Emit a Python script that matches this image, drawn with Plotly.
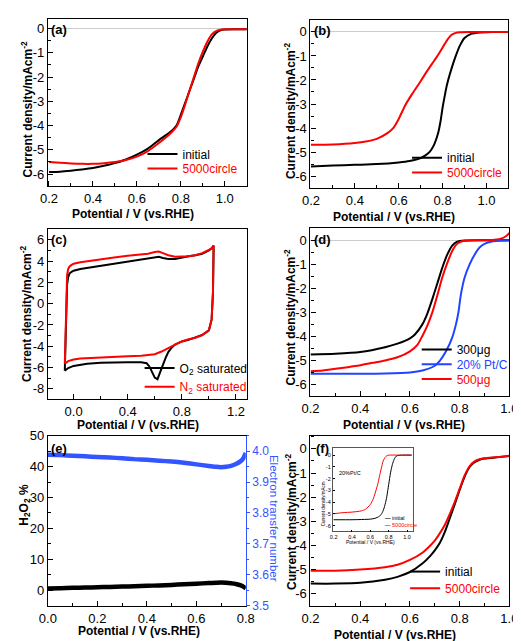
import plotly.graph_objects as go

W, H = 521, 641
FONT = "Liberation Sans Narrow, Liberation Sans, Arial, sans-serif"
FONT_W = "Liberation Sans, Arial, sans-serif"
BLACK, RED, BLUE = "#000000", "#ff0000", "#2244ff"
EBLUE = "#3355ff"

# ---------------- data ----------------
# (a)
a_x = [0.20, 0.25, 0.30, 0.35, 0.40, 0.45, 0.50, 0.55, 0.60, 0.65, 0.70, 0.75, 0.78, 0.80, 0.82,
       0.84, 0.86, 0.88, 0.90, 0.92, 0.94, 0.96, 0.98, 1.00, 1.05, 1.10]
a_initial = [-5.92, -5.90, -5.86, -5.81, -5.75, -5.66, -5.55, -5.40, -5.20, -4.95, -4.60, -4.28, -4.00,
             -3.55, -3.05, -2.55, -2.05, -1.55, -1.15, -0.75, -0.42, -0.18, -0.07, -0.04, -0.03, -0.03]
a_5000 = [-5.50, -5.53, -5.56, -5.58, -5.58, -5.55, -5.50, -5.42, -5.28, -5.05, -4.72, -4.35, -4.05,
          -3.65, -3.12, -2.55, -1.98, -1.42, -0.95, -0.55, -0.25, -0.10, -0.05, -0.03, -0.03, -0.03]

# (b)
b_x_initial = [0.20, 0.30, 0.40, 0.50, 0.60, 0.65, 0.70, 0.72, 0.74, 0.76, 0.78, 0.79, 0.80, 0.81, 0.82,
               0.84, 0.86, 0.88, 0.90, 0.93, 0.97, 1.00, 1.05, 1.10]
b_initial = [-5.60, -5.56, -5.53, -5.50, -5.43, -5.37, -5.25, -5.15, -5.00, -4.72, -4.20, -3.75, -3.15,
             -2.65, -2.20, -1.55, -1.00, -0.55, -0.25, -0.08, -0.02, -0.01, 0.0, 0.0]
b_x_5000 = [0.20, 0.30, 0.40, 0.45, 0.50, 0.55, 0.575, 0.60, 0.63, 0.66, 0.70, 0.73, 0.76, 0.78, 0.80,
            0.82, 0.84, 0.86, 0.88, 0.92, 1.00, 1.10]
b_5000 = [-4.70, -4.68, -4.62, -4.56, -4.45, -4.20, -4.00, -3.62, -3.05, -2.60, -2.05, -1.62, -1.22,
          -0.95, -0.65, -0.35, -0.13, -0.04, -0.01, 0.0, 0.0, 0.0]

# (c) cyclic voltammograms (closed loops)
c_x_o2 = [-0.065, -0.062, -0.058, -0.054, -0.048, -0.04, -0.03, -0.015, 0.0, 0.05, 0.1, 0.2, 0.3, 0.4,
          0.5, 0.55, 0.6, 0.63, 0.66, 0.7, 0.75, 0.8, 0.85, 0.9, 0.95, 1.0, 1.02, 1.035, 1.035, 1.03,
          1.02, 1.0, 0.95, 0.9, 0.85, 0.8, 0.75, 0.72, 0.7, 0.68, 0.66, 0.64, 0.62, 0.6, 0.58, 0.56,
          0.54, 0.5, 0.4, 0.3, 0.2, 0.1, 0.05, 0.0, -0.04, -0.065]
c_o2 = [-6.3, -4.5, -1.5, 0.5, 1.8, 2.5, 2.85, 3.0, 3.1, 3.25, 3.35, 3.5, 3.7, 3.95, 4.1, 4.2, 4.35,
        4.4, 4.3, 4.2, 4.2, 4.35, 4.45, 4.55, 4.7, 5.0, 5.2, 5.45, 4.0, 1.0, -1.5, -2.5, -2.95, -3.2,
        -3.4, -3.55, -3.85, -4.2, -4.55, -5.1, -5.8, -6.6, -7.1, -6.95, -6.4, -5.9, -5.6, -5.5, -5.5,
        -5.5, -5.55, -5.65, -5.75, -5.85, -6.05, -6.3]
c_x_n2 = [-0.065, -0.062, -0.058, -0.054, -0.048, -0.04, -0.03, -0.015, 0.0, 0.05, 0.1, 0.2, 0.3, 0.4,
          0.5, 0.55, 0.6, 0.63, 0.66, 0.7, 0.75, 0.8, 0.85, 0.9, 0.95, 1.0, 1.02, 1.035, 1.035, 1.03,
          1.02, 1.0, 0.95, 0.9, 0.85, 0.8, 0.75, 0.7, 0.65, 0.6, 0.55, 0.5, 0.4, 0.3, 0.2, 0.1, 0.05,
          0.0, -0.04, -0.065]
c_n2 = [-5.65, -3.5, -0.5, 1.5, 2.7, 3.25, 3.5, 3.65, 3.75, 3.9, 4.0, 4.2, 4.35, 4.5, 4.6, 4.7, 4.85,
        4.9, 4.75, 4.55, 4.42, 4.4, 4.45, 4.55, 4.75, 5.05, 5.2, 5.45, 4.0, 1.0, -1.5, -2.5, -2.95,
        -3.2, -3.35, -3.55, -3.85, -4.2, -4.5, -4.75, -4.85, -4.9, -4.95, -5.0, -5.05, -5.1, -5.15,
        -5.25, -5.4, -5.65]

# (d)
d_x_300 = [0.20, 0.30, 0.40, 0.50, 0.55, 0.60, 0.62, 0.65, 0.67, 0.69, 0.71, 0.73, 0.75, 0.77, 0.79,
           0.82, 0.90, 1.00]
d_300 = [-4.75, -4.72, -4.65, -4.45, -4.30, -4.08, -3.92, -3.50, -3.05, -2.45, -1.80, -1.15, -0.60,
         -0.22, -0.06, -0.01, 0.0, 0.0]
d_x_ptc = [0.20, 0.30, 0.40, 0.50, 0.60, 0.65, 0.70, 0.72, 0.745, 0.77, 0.785, 0.795, 0.805, 0.82,
           0.84, 0.86, 0.88, 0.90, 0.93, 0.96, 1.00]
d_ptc = [-5.55, -5.55, -5.55, -5.54, -5.50, -5.42, -5.22, -5.02, -4.62, -4.05, -3.50, -3.00, -2.25,
         -1.55, -1.00, -0.60, -0.30, -0.15, -0.05, -0.02, -0.01]
d_x_500 = [0.20, 0.25, 0.30, 0.35, 0.40, 0.45, 0.50, 0.55, 0.60, 0.63, 0.65, 0.67, 0.69, 0.71, 0.73,
           0.75, 0.77, 0.79, 0.81, 0.85, 0.90, 0.94, 0.97, 0.99, 1.00]
d_500 = [-5.45, -5.42, -5.35, -5.28, -5.20, -5.10, -5.00, -4.87, -4.62, -4.35, -3.98, -3.55, -3.00,
         -2.30, -1.55, -0.95, -0.45, -0.15, -0.04, 0.0, 0.0, 0.02, 0.08, 0.20, 0.30]

# (e)
e_x = [0.0, 0.05, 0.1, 0.15, 0.2, 0.25, 0.3, 0.35, 0.4, 0.45, 0.5, 0.55, 0.6, 0.65, 0.68, 0.7, 0.72,
       0.74, 0.76, 0.78, 0.79, 0.8]
e_h2o2 = [0.6, 0.7, 0.8, 0.9, 1.0, 1.1, 1.2, 1.35, 1.45, 1.6, 1.75, 1.95, 2.15, 2.35, 2.45, 2.5, 2.45,
          2.3, 2.05, 1.6, 1.2, 0.6]
e_n = [3.988, 3.987, 3.985, 3.983, 3.981, 3.979, 3.977, 3.974, 3.972, 3.969, 3.966, 3.962, 3.957,
       3.952, 3.949, 3.948, 3.949, 3.952, 3.958, 3.968, 3.977, 3.994]

# (f)
f_x = [0.20, 0.30, 0.40, 0.50, 0.55, 0.60, 0.65, 0.68, 0.70, 0.72, 0.74, 0.76, 0.78, 0.80, 0.82, 0.84,
       0.86, 0.88, 0.90, 0.95, 1.00]
f_initial = [-5.58, -5.58, -5.55, -5.42, -5.30, -5.10, -4.75, -4.45, -4.20, -3.90, -3.45, -2.88, -2.30,
             -1.70, -1.15, -0.75, -0.55, -0.45, -0.40, -0.35, -0.30]
f_5000 = [-5.05, -5.05, -5.00, -4.90, -4.80, -4.60, -4.30, -4.02, -3.80, -3.50, -3.15, -2.70, -2.20,
          -1.65, -1.10, -0.72, -0.52, -0.43, -0.39, -0.34, -0.28]

# (f) inset: 20% Pt/C
in_x_initial = [0.20, 0.40, 0.60, 0.65, 0.70, 0.73, 0.75, 0.77, 0.78, 0.80, 0.82, 0.84, 0.86, 0.88,
                0.90, 0.95, 1.05]
in_initial = [-5.5, -5.5, -5.45, -5.38, -5.2, -4.9, -4.5, -3.9, -3.5, -2.5, -1.5, -0.8, -0.35, -0.1,
              -0.03, 0.0, 0.0]
in_x_5000 = [0.19, 0.30, 0.40, 0.50, 0.55, 0.60, 0.63, 0.65, 0.68, 0.70, 0.72, 0.74, 0.76, 0.78, 0.80,
             0.90, 1.05]
in_5000 = [-5.0, -4.9, -4.85, -4.75, -4.6, -4.2, -3.75, -3.3, -2.5, -1.8, -1.1, -0.5, -0.2, -0.05, 0.0,
           0.0, 0.0]

# tick labels
t_lsv_y = [0, -1, -2, -3, -4, -5, -6]
t_lsv_y_txt = ["0", "-1", "-2", "-3", "-4", "-5", "-6"]
t_lsv_x = [0.2, 0.4, 0.6, 0.8, 1.0]
t_lsv_x_txt = ["0.2", "0.4", "0.6", "0.8", "1.0"]
t_cv_y = [6, 4, 2, 0, -2, -4, -6, -8]
t_cv_y_txt = ["6", "4", "2", "0", "-2", "-4", "-6", "-8"]
t_cv_x = [0.0, 0.4, 0.8, 1.2]
t_cv_x_txt = ["0.0", "0.4", "0.8", "1.2"]
t_e_x = [0.0, 0.2, 0.4, 0.6, 0.8]
t_e_x_txt = ["0.0", "0.2", "0.4", "0.6", "0.8"]
t_e_y = [0, 10, 20, 30, 40, 50]
t_e_y_txt = ["0", "10", "20", "30", "40", "50"]
t_e_y2 = [3.5, 3.6, 3.7, 3.8, 3.9, 4.0]
t_e_y2_txt = ["3.5", "3.6", "3.7", "3.8", "3.9", "4.0"]

# ---------------- helpers ----------------
def dx(l, r):
    return [l / W, r / W]

def dy(t, b):
    return [1 - b / H, 1 - t / H]

def axis(dom, rng, tv, tt, minor_dtick, anchor, **kw):
    d = dict(domain=dom, range=rng, tickmode="array", tickvals=tv, ticktext=tt,
             showline=True, linecolor="black", linewidth=1.2, mirror=True,
             ticks="inside", ticklen=5, tickwidth=1, tickcolor="black",
             showgrid=False, zeroline=False, anchor=anchor,
             tickfont=dict(family=FONT, size=13, color="black"),
             minor=dict(tickmode="linear", tick0=0, dtick=minor_dtick, ticks="inside",
                        ticklen=3, tickwidth=1, tickcolor="black"))
    d.update(kw)
    return d

fig = go.Figure()
legends = {}
_leg_n = [0]

def new_legend(text_x, center_y, size=12):
    _leg_n[0] += 1
    key = "legend" if _leg_n[0] == 1 else f"legend{_leg_n[0]}"
    legends[key] = dict(x=(text_x - 48) / W, y=1 - center_y / H, xanchor="left", yanchor="middle",
                        bgcolor="rgba(0,0,0,0)", borderwidth=0, tracegroupgap=0, itemwidth=30,
                        font=dict(family=FONT_W, size=size, color="black"))
    return key

def line(x, y, xa, ya, color, name=None, leg_pos=None, width=2, shape="spline"):
    legend = new_legend(*leg_pos) if leg_pos else None
    fig.add_trace(go.Scatter(
        x=x, y=y, xaxis=xa, yaxis=ya, mode="lines",
        line=dict(color=color, width=width, shape=shape, smoothing=0.7 if shape == "spline" else None),
        name=name, showlegend=legend is not None, legend=legend, hoverinfo="skip"))

def colored(txt, c):
    return f"<span style='color:{c}'>{txt}</span>"

# (a)
line(a_x, a_initial, "x", "y", BLACK, "initial", (178, 142))
line(a_x, a_5000, "x", "y", RED, colored("5000circle", RED), (178, 157))
# (b)
line(b_x_initial, b_initial, "x2", "y2", BLACK, "initial", (452, 146))
line(b_x_5000, b_5000, "x2", "y2", RED, colored("5000circle", RED), (452, 161))
# (c)
line(c_x_o2, c_o2, "x3", "y3", BLACK, "O<sub>2</sub> saturated", (175, 361), shape="linear")
line(c_x_n2, c_n2, "x3", "y3", RED, colored("N<sub>2</sub> saturated", RED), (175, 380), shape="linear")
# (d)
line(d_x_300, d_300, "x4", "y4", BLACK, "300μg", (462, 342))
line(d_x_ptc, d_ptc, "x4", "y4", BLUE, colored("20% Pt/C", BLUE), (462, 357))
line(d_x_500, d_500, "x4", "y4", RED, colored("500μg", RED), (462, 372))
# (e)
line(e_x, e_h2o2, "x5", "y5", BLACK, width=4.5)
line(e_x, e_n, "x5", "y7", EBLUE, width=4.5)
# (f)
line(f_x, f_initial, "x6", "y6", BLACK, "initial", (450, 569))
line(f_x, f_5000, "x6", "y6", RED, colored("5000circle", RED), (450, 586))
# inset
line(in_x_initial, in_initial, "x7", "y8", BLACK, width=1)
line(in_x_5000, in_5000, "x7", "y8", RED, width=1)

zl = dict(zeroline=True, zerolinecolor="#cccccc", zerolinewidth=1)

layout = dict(
    width=W, height=H, margin=dict(l=0, r=0, t=0, b=0),
    paper_bgcolor="white", plot_bgcolor="white",
    font=dict(family=FONT, color="black"),
    xaxis=axis(dx(32, 238), [0.195, 1.1], t_lsv_x, t_lsv_x_txt, 0.1, "y"),
    yaxis=axis(dy(4, 175), [-6.5, 0.4], t_lsv_y, t_lsv_y_txt, 0.5, "x", **zl),
    xaxis2=axis(dx(304, 509), [0.198, 1.1], t_lsv_x, t_lsv_x_txt, 0.1, "y2"),
    yaxis2=axis(dy(5, 177), [-6.5, 0.5], t_lsv_y, t_lsv_y_txt, 0.5, "x2", **zl),
    xaxis3=axis(dx(32, 238), [-0.19, 1.28], t_cv_x, t_cv_x_txt, 0.2, "y3"),
    yaxis3=axis(dy(219, 393), [-9, 7], t_cv_y, t_cv_y_txt, 1, "x3"),
    xaxis4=axis(dx(304, 510), [0.2, 1.0], t_lsv_x, t_lsv_x_txt, 0.1, "y4"),
    yaxis4=axis(dy(218, 390), [-6.5, 0.5], t_lsv_y, t_lsv_y_txt, 0.5, "x4", **zl),
    xaxis5=axis(dx(32, 237), [0, 0.8], t_e_x, t_e_x_txt, 0.1, "y5"),
    yaxis5=axis(dy(430, 604), [-5, 50], t_e_y, t_e_y_txt, 5, "x5", mirror=False),
    yaxis7=axis(dy(430, 604), [3.5, 4.05], t_e_y2, t_e_y2_txt, 0.05, "x5",
                overlaying="y5", side="right", mirror=False, linecolor=EBLUE,
                tickcolor=EBLUE, ticks="outside", ticklen=3,
                tickfont=dict(family=FONT, size=12, color=EBLUE),
                minor=dict(tickmode="linear", tick0=0, dtick=0.05, ticks="outside", ticklen=2,
                           tickwidth=1, tickcolor=EBLUE)),
    xaxis6=axis(dx(304, 510), [0.2, 1.0], t_lsv_x, t_lsv_x_txt, 0.1, "y6"),
    yaxis6=axis(dy(430, 604), [-6.5, 0.55], t_lsv_y, t_lsv_y_txt, 0.5, "x6"),
    xaxis7=axis(dx(327, 410), [0.19, 1.063], t_lsv_x, t_lsv_x_txt, 0.1, "y8",
                linewidth=0.7, linecolor="#555555", ticklen=2, tickwidth=0.6,
                tickfont=dict(family=FONT, size=5.5, color="black"),
                minor=dict(ticks="")),
    yaxis8=axis(dy(443, 528), [-6.5, 0.58], t_lsv_y, t_lsv_y_txt, 0.5, "x7",
                linewidth=0.7, linecolor="#555555", ticklen=2, tickwidth=0.6,
                tickfont=dict(family=FONT, size=5.5, color="black"),
                minor=dict(ticks="")),
)
layout.update(legends)
fig.update_layout(**layout)

ann = []
def text(t, xp, yp, size=12, angle=0, color="black", family=FONT, bold=False, xanchor="center"):
    ann.append(dict(text=f"<b>{t}</b>" if bold else t, x=xp / W, y=1 - yp / H, xref="paper",
                    yref="paper", showarrow=False, textangle=angle, xanchor=xanchor,
                    yanchor="middle", font=dict(family=family, size=size, color=color)))

XT = "Potential / V (vs.RHE)"
YT = "Current density/mAcm<sup>-2</sup>"
text(XT, 120, 203, bold=True)
text(XT, 391, 206, bold=True)
text(XT, 125, 419, bold=True)
text(XT, 401, 419, bold=True)
text(XT, 126, 630, bold=True)
text(XT, 392, 634, bold=True)
text(YT, 10, 97, angle=-90, bold=True, family=FONT_W)
text(YT, 283, 98, angle=-90, bold=True, family=FONT_W)
text(YT, 10, 306, angle=-90, bold=True, family=FONT_W)
text(YT, 283, 309, angle=-90, bold=True, family=FONT_W)
text(YT, 283, 518, angle=-90, bold=True, family=FONT_W)
text("H<sub>2</sub>O<sub>2</sub> %", 8, 501, size=12, angle=-90, bold=True)
text("Electron transfer number", 266, 515, size=11.5, angle=90, color=EBLUE, family=FONT_W)
# panel labels
for lab, xp, yp in [("(a)", 43, 15), ("(b)", 316, 16), ("(c)", 43, 230), ("(d)", 316, 230),
                    ("(e)", 43, 443), ("(f)", 316, 443)]:
    text(lab, xp, yp, size=13, bold=True)
# inset texts
text("20%Pt/C", 345, 468, size=5.5)
text("Potential / V (vs.RHE)", 366, 539, size=5)
text("Current density/mAcm", 317, 500, size=4.5, angle=-90)
text("<b>—</b> initial", 379, 514, size=5.5, xanchor="left")
text(colored("<b>—</b> 5000circle", RED), 379, 521, size=5.5, xanchor="left")

fig.update_layout(annotations=ann)
fig.write_html("out.html")
